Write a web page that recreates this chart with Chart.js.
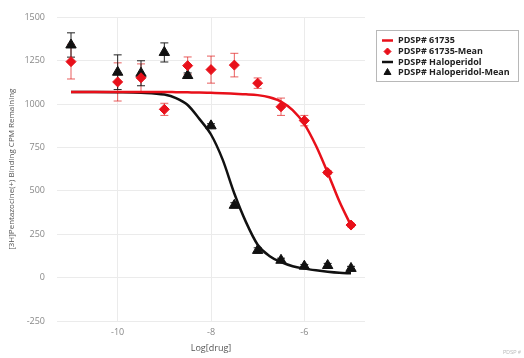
<!DOCTYPE html>
<html>
<head>
<meta charset="utf-8">
<script src="https://cdn.jsdelivr.net/npm/chart.js@4"></script>
<style>
  html, body { margin: 0; padding: 0; background: #fff; }
  #wrap { width: 524px; height: 358px; }
</style>
</head>
<body>
<div id="wrap"><canvas id="doseChart" width="524" height="358"></canvas></div>
<script>
// measured means (log dose vs CPM)
var doseX = [-11, -10, -9.5, -9, -8.5, -8, -7.5, -7, -6.5, -6, -5.5, -5];
var mean61735 = [1245, 1128, 1152, 970, 1222, 1199, 1225, 1121, 985, 905, 606, 303];
var err61735 = [100, 110, 80, 35, 50, 78, 68, 30, 50, 30, 10, 10];
var meanHalo = [1341, 1184, 1178, 1298, 1165, 875, 417, 157, 100, 66, 70, 53];
var errHalo = [70, 100, 72, 55, 15, 12, 15, 15, 12, 10, 12, 12];

// fitted curves
var curveX = [-11, -10.5, -10, -9.5, -9, -8.75, -8.5, -8.25, -8, -7.75, -7.5, -7.25, -7, -6.75, -6.5, -6.25, -6, -5.75, -5.5, -5.25, -5];
var curve61735 = [1070, 1070, 1070, 1070, 1070, 1069, 1068, 1067, 1065, 1063, 1060, 1057, 1052, 1040, 1015, 965, 885, 760, 605, 440, 300];
var curveHalo = [1070, 1070, 1069, 1066, 1055, 1035, 995, 915, 825, 680, 485, 320, 190, 125, 90, 66, 52, 42, 34, 28, 25];

var yTicks = [-250, 0, 250, 500, 750, 1000, 1250, 1500];
var xTicks = [-10, -8, -6];

var RED = '#e8101a';
var BLACK = '#111111';

function pts(xs, ys) {
    var out = [];
    for (var i = 0; i < xs.length; i++) out.push({x: xs[i], y: ys[i]});
    return out;
}

var errorBars = {
    id: 'errorBars',
    beforeDatasetsDraw: function(chart) {
        var ctx = chart.ctx;
        var xs = chart.scales.x, ys = chart.scales.y;
        var sets = [[mean61735, err61735, 'rgba(225,40,40,0.75)'], [meanHalo, errHalo, '#222']];
        ctx.save();
        ctx.lineWidth = 1;
        sets.forEach(function(s) {
            ctx.strokeStyle = s[2];
            for (var i = 0; i < doseX.length; i++) {
                var px = xs.getPixelForValue(doseX[i]);
                var top = ys.getPixelForValue(s[0][i] + s[1][i]);
                var bot = ys.getPixelForValue(s[0][i] - s[1][i]);
                ctx.beginPath();
                ctx.moveTo(px, top); ctx.lineTo(px, bot);
                ctx.moveTo(px - 4, top); ctx.lineTo(px + 4, top);
                ctx.moveTo(px - 4, bot); ctx.lineTo(px + 4, bot);
                ctx.stroke();
            }
        });
        ctx.restore();
    }
};

var boxLegend = {
    id: 'boxLegend',
    afterDraw: function(chart) {
        var ctx = chart.ctx;
        var ds = chart.data.datasets;
        var rowY = [40.5, 51.5, 62, 72.5];
        ctx.save();
        ctx.strokeStyle = '#b8b8b8';
        ctx.lineWidth = 1;
        ctx.strokeRect(376.5, 30.5, 142, 51);
        ctx.font = 'bold 9px "Open Sans", sans-serif';
        ctx.textBaseline = 'middle';
        for (var i = 0; i < ds.length; i++) {
            var d = ds[i], y = rowY[i];
            if (d.showLine === false) {
                ctx.fillStyle = d.backgroundColor;
                ctx.strokeStyle = d.borderColor;
                ctx.lineWidth = 1;
                Chart.helpers.drawPoint(ctx, {pointStyle: d.pointStyle, radius: d.pointStyle === 'triangle' ? 4 : 3.5, borderWidth: 1}, 387.5, y);
            } else {
                ctx.strokeStyle = d.borderColor;
                ctx.lineWidth = 2.5;
                ctx.beginPath();
                ctx.moveTo(382, y); ctx.lineTo(393, y);
                ctx.stroke();
            }
            ctx.fillStyle = '#222';
            ctx.fillText(d.label, 398, y);
        }
        ctx.fillStyle = '#bbb';
        ctx.font = '5px sans-serif';
        ctx.fillText('PDSP #', 503, 353);
        ctx.restore();
    }
};

new Chart(document.getElementById('doseChart').getContext('2d'), {
    type: 'scatter',
    data: {
        datasets: [{
            label: 'PDSP# 61735',
            data: pts(curveX, curve61735),
            showLine: true,
            borderColor: RED,
            backgroundColor: RED,
            borderWidth: 2.5,
            pointRadius: 0,
            cubicInterpolationMode: 'monotone'
        }, {
            label: 'PDSP# 61735-Mean',
            data: pts(doseX, mean61735),
            showLine: false,
            pointStyle: 'rectRot',
            pointRadius: 5,
            borderColor: RED,
            backgroundColor: RED
        }, {
            label: 'PDSP# Haloperidol',
            data: pts(curveX, curveHalo),
            showLine: true,
            borderColor: BLACK,
            backgroundColor: BLACK,
            borderWidth: 2.5,
            pointRadius: 0,
            cubicInterpolationMode: 'monotone'
        }, {
            label: 'PDSP# Haloperidol-Mean',
            data: pts(doseX, meanHalo),
            showLine: false,
            pointStyle: 'triangle',
            pointRadius: 6,
            borderColor: BLACK,
            backgroundColor: BLACK
        }]
    },
    options: {
        responsive: false,
        animation: false,
        layout: { padding: { left: 7, top: 13, right: 159, bottom: 0 } },
        plugins: {
            legend: { display: false },
            tooltip: { enabled: false }
        },
        scales: {
            x: {
                type: 'linear',
                min: -11.3,
                max: -4.7,
                afterBuildTicks: function(axis) {
                    axis.ticks = xTicks.map(function(v) { return {value: v}; });
                },
                afterFit: function(axis) { axis.height = 37; },
                grid: { color: '#ebebeb', drawTicks: false },
                border: { display: false },
                ticks: { color: '#888', font: { family: 'Open Sans', size: 9 }, padding: 6,
                    callback: function(v) { return String(v); } },
                title: { display: true, text: 'Log[drug]', color: '#555', font: { family: 'Open Sans', size: 9 }, padding: { top: 2 } }
            },
            y: {
                type: 'linear',
                min: -250,
                max: 1500,
                afterBuildTicks: function(axis) {
                    axis.ticks = yTicks.map(function(v) { return {value: v}; });
                },
                afterFit: function(axis) { axis.width = 50; },
                grid: { color: '#ebebeb', drawTicks: false },
                border: { display: false },
                ticks: { color: '#888', font: { family: 'Open Sans', size: 9 }, padding: 12,
                    callback: function(v) { return String(v); } },
                title: { display: true, text: '[3H]Pentazocine(+) Binding CPM Remaining', color: '#555', font: { family: 'Open Sans', size: 8 }, padding: 0 }
            }
        }
    },
    plugins: [errorBars, boxLegend]
});
</script>
</body>
</html>
